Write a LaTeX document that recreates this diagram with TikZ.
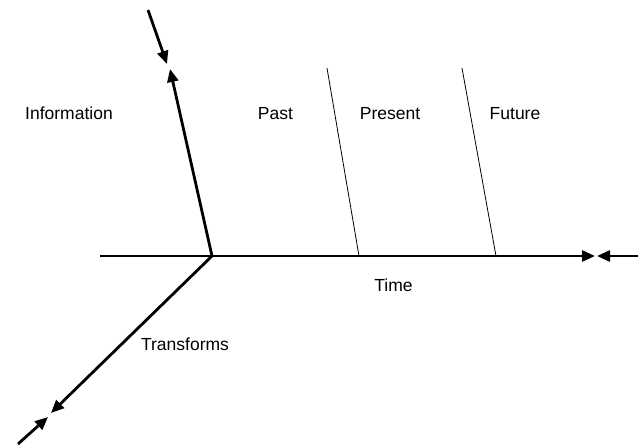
\documentclass[tikz,border=0pt]{standalone}
\usepackage{fontspec}
\setmainfont{Liberation Sans}
\usetikzlibrary{arrows.meta}
\begin{document}
\begin{tikzpicture}[x=1pt,y=-1pt,
  axis/.style={line width=2.8pt},
  arr/.style={axis,-{Triangle[length=13pt,width=11pt]}},
  divider/.style={line width=0.8pt},
  lbl/.style={font=\fontsize{17.5}{20}\selectfont,inner sep=0pt,anchor=base}]
\useasboundingbox (0,0) rectangle (638,445);
\coordinate (O) at (212,256);
\coordinate (L) at (100,256);
\coordinate (R) at (595,256);
\coordinate (Rs) at (638,256);
\coordinate (Rt) at (597,256);
\coordinate (T) at (170,69);
\coordinate (Ts) at (148,10);
\coordinate (Tt) at (167,64);
\coordinate (B) at (51,413);
\coordinate (Bs) at (18,444);
\coordinate (Bt) at (48,417);
\coordinate (D1a) at (327,68);
\coordinate (D1b) at (359,256);
\coordinate (D2a) at (462,68);
\coordinate (D2b) at (496,256);
\draw[axis] (L) -- (O);
\draw[arr] (O) -- (R);
\draw[arr] (Rs) -- (Rt);
\draw[arr] (O) -- (T);
\draw[arr] (Ts) -- (Tt);
\draw[arr] (O) -- (B);
\draw[arr] (Bs) -- (Bt);
\draw[divider] (D1a) -- (D1b);
\draw[divider] (D2a) -- (D2b);
\node[lbl] (info) at (69,119.5) {Information};
\node[lbl] (past) at (275.5,119.5) {Past};
\node[lbl] (present) at (390,119.5) {Present};
\node[lbl] (future) at (515,119.5) {Future};
\node[lbl] (time) at (393.5,291.5) {Time};
\node[lbl] (transforms) at (185,350.5) {Transforms};
\end{tikzpicture}
\end{document}
